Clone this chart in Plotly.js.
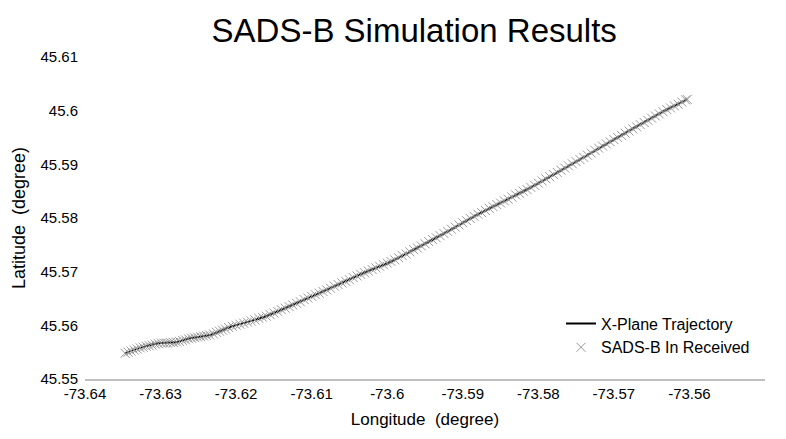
<!DOCTYPE html>
<html>
<head>
<meta charset="utf-8">
<script src="https://cdn.plot.ly/plotly-3.0.1.min.js"></script>
<style>html,body{margin:0;padding:0;background:#fff;}#chart{width:786px;height:439px;}</style>
</head>
<body>
<div id="chart"></div>
<script>
// X-Plane trajectory (line)
const trajLon = [-73.6347,-73.6327,-73.6301,-73.6278,-73.6261,-73.6234,-73.6208,-73.6164,-73.6119,-73.6076,-73.6032,-73.5996,-73.5966,-73.5921,-73.5877,-73.5811,-73.5767,-73.5722,-73.5678,-73.5634,-73.5603];
const trajLat = [45.5548,45.5558,45.5567,45.5569,45.5576,45.5582,45.5597,45.5615,45.5642,45.5669,45.5697,45.5718,45.5740,45.5774,45.5809,45.5856,45.5891,45.5928,45.5964,45.5999,45.6021];

// SADS-B received points (markers)
const rxLon = [-73.6347,-73.6343,-73.6339,-73.6335,-73.6331,-73.6327,
-73.6323,-73.6319,-73.6315,-73.6311,-73.6307,-73.6303,
-73.6299,-73.6295,-73.6291,-73.6287,-73.6283,-73.6279,
-73.6275,-73.6271,-73.6267,-73.6263,
-73.6259,-73.6255,-73.6251,-73.6247,-73.6243,-73.6239,-73.6235,
-73.6230,-73.6226,-73.6222,-73.6218,-73.6214,-73.6210,
-73.6205,-73.6200,-73.6195,-73.6190,-73.6185,-73.6180,-73.6175,-73.6170,-73.6165,
-73.6160,-73.6155,-73.6150,-73.6145,-73.6140,-73.6135,-73.6130,-73.6125,-73.6120,
-73.6115,-73.6110,-73.6105,-73.6100,-73.6095,-73.6090,-73.6085,-73.6080,
-73.6075,-73.6070,-73.6065,-73.6060,-73.6055,-73.6050,-73.6045,-73.6040,-73.6035,
-73.6030,-73.6025,-73.6020,-73.6015,-73.6010,-73.6005,-73.6000,
-73.5995,-73.5990,-73.5985,-73.5980,-73.5975,-73.5970,
-73.5965,-73.5960,-73.5955,-73.5950,-73.5945,-73.5940,-73.5935,-73.5930,-73.5925,
-73.5920,-73.5915,-73.5910,-73.5905,-73.5900,-73.5895,-73.5890,-73.5885,-73.5880,
-73.5875,-73.5870,-73.5865,-73.5860,-73.5855,-73.5850,-73.5845,-73.5840,-73.5835,-73.5830,-73.5825,-73.5820,-73.5815,
-73.5810,-73.5805,-73.5800,-73.5795,-73.5790,-73.5785,-73.5780,-73.5775,-73.5770,
-73.5765,-73.5760,-73.5755,-73.5750,-73.5745,-73.5740,-73.5735,-73.5730,-73.5725,
-73.5720,-73.5715,-73.5710,-73.5705,-73.5700,-73.5695,-73.5690,-73.5685,-73.5680,
-73.5675,-73.5670,-73.5665,-73.5660,-73.5655,-73.5650,-73.5645,-73.5640,-73.5635,
-73.5630,-73.5625,-73.5620,-73.5615,-73.5610,-73.5605,-73.5603];
const rxLat = [45.5548,45.5550,45.5552,45.5554,45.5556,45.5558,
45.5559,45.5561,45.5562,45.5563,45.5565,45.5566,
45.5567,45.5567,45.5567,45.5568,45.5568,45.5569,
45.5570,45.5572,45.5573,45.5575,
45.5576,45.5577,45.5578,45.5579,45.5580,45.5581,45.5582,
45.5584,45.5587,45.5589,45.5591,45.5593,45.5596,
45.5598,45.5600,45.5602,45.5604,45.5606,45.5608,45.5610,45.5613,45.5615,
45.5617,45.5620,45.5623,45.5626,45.5629,45.5632,45.5635,45.5638,45.5641,
45.5644,45.5648,45.5651,45.5654,45.5657,45.5660,45.5663,45.5666,
45.5669,45.5673,45.5676,45.5679,45.5682,45.5685,45.5689,45.5692,45.5695,
45.5698,45.5701,45.5704,45.5707,45.5710,45.5713,45.5716,
45.5719,45.5722,45.5726,45.5730,45.5733,45.5737,
45.5741,45.5744,45.5748,45.5752,45.5756,45.5760,45.5763,45.5767,45.5771,
45.5775,45.5779,45.5783,45.5787,45.5791,45.5795,45.5799,45.5803,45.5807,
45.5810,45.5814,45.5818,45.5821,45.5825,45.5828,45.5832,45.5835,45.5839,45.5843,45.5846,45.5850,45.5853,
45.5857,45.5861,45.5865,45.5869,45.5873,45.5877,45.5881,45.5885,45.5889,
45.5893,45.5897,45.5901,45.5905,45.5909,45.5913,45.5917,45.5921,45.5926,
45.5930,45.5934,45.5938,45.5942,45.5946,45.5950,45.5954,45.5958,45.5962,
45.5966,45.5970,45.5974,45.5978,45.5982,45.5986,45.5990,45.5994,45.5998,
45.6002,45.6005,45.6009,45.6012,45.6016,45.6020,45.6021];

const xTicks = [-73.64,-73.63,-73.62,-73.61,-73.6,-73.59,-73.58,-73.57,-73.56,-73.55];
const yTicks = [45.55,45.56,45.57,45.58,45.59,45.6,45.61];

const FONT = '"Liberation Sans", Arial, sans-serif';

const traces = [
  {
    x: trajLon, y: trajLat, type: 'scatter', mode: 'lines',
    name: 'X-Plane Trajectory',
    line: {color: '#000000', width: 2, shape: 'spline', smoothing: 0.6}
  },
  {
    x: rxLon, y: rxLat, type: 'scatter', mode: 'markers',
    name: 'SADS-B In Received',
    marker: {symbol: 'x-thin', size: 9, color: '#999999', line: {color: '#999999', width: 1}}
  }
];

const layout = {
  width: 786, height: 439,
  margin: {l: 85, r: 21, t: 57, b: 60},
  paper_bgcolor: '#ffffff', plot_bgcolor: '#ffffff',
  font: {family: FONT, color: '#000000', size: 15},
  title: {text: 'SADS-B Simulation Results', x: 0.527, xanchor: 'center', y: 0.93, yanchor: 'middle',
          font: {family: FONT, size: 33, color: '#000000'}},
  xaxis: {
    range: [-73.64, -73.55], tickvals: xTicks, ticktext: xTicks.map(String),
    showgrid: false, zeroline: false, showline: true, linecolor: '#bfbfbf', linewidth: 1.5,
    ticks: '', tickfont: {family: FONT, size: 15, color: '#000'},
    title: {text: 'Longitude&nbsp; (degree)', font: {family: FONT, size: 17, color: '#000'}, standoff: 12}
  },
  yaxis: {
    range: [45.55, 45.61], tickvals: yTicks, ticktext: yTicks.map(String),
    showgrid: false, zeroline: false, showline: false,
    ticks: '', ticklabelstandoff: 6, tickfont: {family: FONT, size: 15, color: '#000'},
    title: {text: 'Latitude&nbsp; (degree)', font: {family: FONT, size: 18, color: '#000'}, standoff: 10}
  },
  showlegend: true,
  legend: {x: 0.7, y: 0.225, xanchor: 'left', yanchor: 'top', bgcolor: 'rgba(0,0,0,0)',
           font: {family: FONT, size: 16, color: '#000'}, itemwidth: 30}
};

Plotly.newPlot('chart', traces, layout, {displayModeBar: false, staticPlot: true});
</script>
</body>
</html>
